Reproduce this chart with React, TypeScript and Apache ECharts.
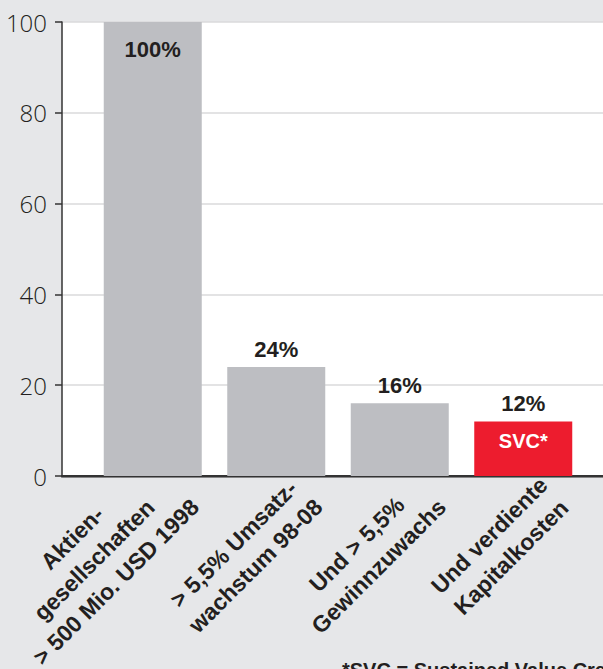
import React, { useEffect, useRef } from "react";
import * as echarts from "echarts";

const categories = [
  "Aktien-\ngesellschaften\n> 500 Mio. USD 1998",
  "> 5,5% Umsatz-\nwachstum 98-08",
  "Und > 5,5%\nGewinnzuwachs",
  "Und verdiente\nKapitalkosten",
];
const values = [100, 24, 16, 12];
const innerMarks = ["", "", "", "SVC*"];
const yTicks = { min: 0, max: 100, interval: 20 };
const footnote = "*SVC = Sustained Value Creators";

const GRAY = "#bdbec2";
const RED = "#ed1c2e";
const INK = "#231f20";
const FONT = "'Liberation Sans', Arial, sans-serif";

export default function App() {
  const ref = useRef<HTMLDivElement>(null);
  useEffect(() => {
    if (!ref.current) return;
    const chart = echarts.init(ref.current, null, { renderer: "svg" });
    const bottom = 193;
    chart.setOption({
      animation: false,
      backgroundColor: "#e6e7e9",
      textStyle: { fontFamily: FONT },
      grid: [
        { left: 62, right: 0, top: 22, bottom, show: true, backgroundColor: "#ffffff", borderWidth: 0, outerBoundsMode: "none" },
        { left: 91, right: 18, top: 22, bottom, outerBoundsMode: "none" },
        { left: 144, right: -35, top: 22, bottom, outerBoundsMode: "none" },
      ],
      xAxis: [
        {
          gridIndex: 0, type: "category", position: "top", data: [""],
          axisLine: { show: true, lineStyle: { color: "#666666", width: 2.5 } },
          axisTick: { show: false }, axisLabel: { show: false }, splitLine: { show: false },
        },
        {
          gridIndex: 0, type: "category", position: "bottom", data: [""],
          axisLine: { show: true, lineStyle: { color: "#333333", width: 2 } },
          axisTick: { show: false }, axisLabel: { show: false }, splitLine: { show: false },
        },
        { gridIndex: 1, type: "category", data: categories, show: false },
        {
          gridIndex: 2, type: "category", data: categories,
          axisLine: { show: false }, axisTick: { show: false }, splitLine: { show: false },
          axisLabel: {
            interval: 0, rotate: 45, align: "right", verticalAlign: "bottom", margin: 38,
            hideOverlap: false,
            formatter: (v: string) => v.split("\n").map((l) => `{c|${l}}`).join("\n"),
            rich: {
              c: { align: "center", fontSize: 23, fontWeight: "bold", lineHeight: 31, color: INK, fontFamily: FONT },
            },
          },
        },
      ],
      yAxis: [
        {
          gridIndex: 0, type: "value", ...yTicks,
          axisLine: { show: true, lineStyle: { color: "#333333", width: 1.5 } },
          axisTick: { show: true, length: 7, lineStyle: { color: "#333333", width: 1.5 } },
          axisLabel: { fontSize: 24, color: INK, margin: 15, fontWeight: 300, fontFamily: "'Open Sans', 'Liberation Sans', sans-serif" },
          splitLine: { show: true, lineStyle: { color: "#dadadb", width: 1.5 } },
        },
        { gridIndex: 1, type: "value", ...yTicks, show: false },
        { gridIndex: 2, type: "value", ...yTicks, show: false },
      ],
      series: [
        {
          type: "bar", xAxisIndex: 2, yAxisIndex: 1, barWidth: 98, barGap: "-100%",
          data: values.map((v, i) => ({
            value: v,
            itemStyle: { color: innerMarks[i] ? RED : GRAY },
            label: i === 0 ? { position: "insideTop", distance: 16 } : undefined,
          })),
          label: {
            show: true, position: "top", distance: 7, formatter: "{c}%",
            fontSize: 22, fontWeight: "bold", color: INK, fontFamily: FONT,
          },
        },
        {
          type: "bar", xAxisIndex: 2, yAxisIndex: 1, barWidth: 98, barGap: "-100%",
          data: values.map((v, i) => (innerMarks[i] ? v : "-")),
          itemStyle: { color: "rgba(0,0,0,0)" },
          label: {
            show: true, position: "insideTop", distance: 9,
            formatter: (p: any) => innerMarks[p.dataIndex],
            fontSize: 20, fontWeight: "bold", color: "#ffffff", fontFamily: FONT,
          },
          z: 3,
        },
      ],
      graphic: [
        {
          type: "text", left: 342, top: 660,
          style: { text: footnote, fontSize: 20, fontWeight: "bold", fill: INK, fontFamily: FONT },
        },
      ],
    });
    return () => chart.dispose();
  }, []);
  return <div ref={ref} style={{ position: "absolute", left: 0, top: 0, width: 603, height: 669 }} />;
}
